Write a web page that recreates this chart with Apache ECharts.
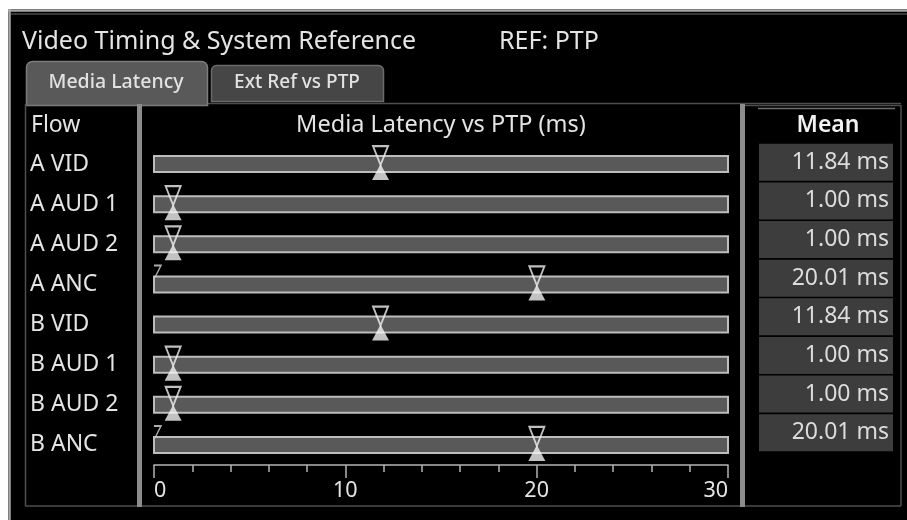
<!DOCTYPE html>
<html>
<head>
<meta charset="utf-8">
<script src="https://cdn.jsdelivr.net/npm/echarts@6/dist/echarts.min.js"></script>
<style>
html,body{margin:0;padding:0;background:#fff;}
#c{width:907px;height:520px;}
</style>
</head>
<body>
<div id="c"></div>
<script>
// ---- data ----
const flows = ['A VID', 'A AUD 1', 'A AUD 2', 'A ANC', 'B VID', 'B AUD 1', 'B AUD 2', 'B ANC'];
const latencyMs = [11.84, 1.00, 1.00, 20.01, 11.84, 1.00, 1.00, 20.01];
const meanMs = [11.84, 1.00, 1.00, 20.01, 11.84, 1.00, 1.00, 20.01];
const minMarkMs = [null, null, null, 0, null, null, null, 0];
const axisMin = 0, axisMax = 30, axisStep = 10;
const titleText = 'Video Timing & System Reference';
const refText = 'REF: PTP';
const tabLabels = ['Media Latency', 'Ext Ref vs PTP'];
const flowHeader = 'Flow';
const chartHeader = 'Media Latency vs PTP (ms)';
const meanHeader = 'Mean';

const FONT = '"Noto Sans", "Open Sans", sans-serif';
const TXT = '#e4e4e4';

const chart = echarts.init(document.getElementById('c'), null, {renderer: 'canvas'});

const graphics = [
  // outer white margin + frame lines
  {type: 'rect', shape: {x: 0, y: 0, width: 907, height: 9}, style: {fill: '#fff'}},
  {type: 'rect', shape: {x: 0, y: 0, width: 8, height: 520}, style: {fill: '#fff'}},
  {type: 'line', shape: {x1: 8, y1: 10.5, x2: 907, y2: 10.5}, style: {stroke: '#a8a8a8', lineWidth: 2.5}},
  {type: 'line', shape: {x1: 11, y1: 14, x2: 907, y2: 14}, style: {stroke: '#4a4a4a', lineWidth: 1.5}},
  {type: 'line', shape: {x1: 9.5, y1: 9, x2: 9.5, y2: 520}, style: {stroke: '#a8a8a8', lineWidth: 2.5}},
  // titles
  {type: 'text', style: {x: 22, y: 42, text: titleText, fill: TXT, font: '25px ' + FONT, textVerticalAlign: 'middle'}},
  {type: 'text', style: {x: 499, y: 42, text: refText, fill: TXT, font: '25px ' + FONT, textVerticalAlign: 'middle'}},
  // panel top line
  {type: 'line', shape: {x1: 208, y1: 103.5, x2: 901, y2: 103.5}, style: {stroke: '#4e4e4e', lineWidth: 1.5}},
  // tabs
  {type: 'rect', shape: {x: 26.5, y: 61.5, width: 181, height: 44, r: [6, 6, 0, 0]}, style: {fill: '#595959', stroke: '#7c7c7c', lineWidth: 1.5}},
  {type: 'rect', shape: {x: 211.5, y: 65.5, width: 172, height: 36, r: [5, 5, 0, 0]}, style: {fill: '#464646', stroke: '#6a6a6a', lineWidth: 1.5}},
  {type: 'text', style: {x: 116, y: 82, text: tabLabels[0], fill: '#e2e2e2', font: '500 19.5px ' + FONT, textAlign: 'center', textVerticalAlign: 'middle'}},
  {type: 'text', style: {x: 297, y: 83, text: tabLabels[1], fill: '#e2e2e2', font: '500 19px ' + FONT, textAlign: 'center', textVerticalAlign: 'middle'}},
  // left column box
  {type: 'line', shape: {x1: 25.5, y1: 104, x2: 25.5, y2: 506}, style: {stroke: '#4e4e4e', lineWidth: 1.5}},
  {type: 'line', shape: {x1: 25, y1: 506, x2: 901, y2: 506}, style: {stroke: '#4e4e4e', lineWidth: 1.5}},
  {type: 'rect', shape: {x: 137, y: 104, width: 5, height: 403}, style: {fill: '#8c8c8c'}},
  {type: 'rect', shape: {x: 740, y: 104, width: 5, height: 403}, style: {fill: '#8c8c8c'}},
  // right column box
  {type: 'line', shape: {x1: 745, y1: 105.5, x2: 901, y2: 105.5}, style: {stroke: '#4e4e4e', lineWidth: 1.5}},
  {type: 'line', shape: {x1: 901, y1: 105, x2: 901, y2: 506}, style: {stroke: '#4e4e4e', lineWidth: 1.5}},
  {type: 'line', shape: {x1: 758, y1: 108.5, x2: 895, y2: 108.5}, style: {stroke: '#6e6e6e', lineWidth: 1.5}},
  // headers
  {type: 'text', style: {x: 31, y: 125, text: flowHeader, fill: TXT, font: '23px ' + FONT, textVerticalAlign: 'middle'}},
  {type: 'text', style: {x: 441, y: 125, text: chartHeader, fill: TXT, font: '23.5px ' + FONT, textAlign: 'center', textVerticalAlign: 'middle'}},
  {type: 'text', style: {x: 828, y: 125, text: meanHeader, fill: '#f2f2f2', font: '600 23px ' + FONT, textAlign: 'center', textVerticalAlign: 'middle'}}
];

const option = {
  backgroundColor: '#000',
  animation: false,
  graphic: graphics,
  grid: [
    {left: 154, right: 179, top: 144, bottom: 55},
    {left: 893, right: 13, top: 143, height: 309}
  ],
  xAxis: [
    {
      type: 'value', gridIndex: 0, min: axisMin, max: axisMax, interval: axisStep,
      position: 'bottom',
      axisLine: {show: true, lineStyle: {color: '#b4b4b4', width: 1.5}},
      axisTick: {show: true, length: 13, lineStyle: {color: '#b4b4b4', width: 1.5}},
      minorTick: {show: true, splitNumber: 5, length: 7, lineStyle: {color: '#b4b4b4', width: 1.5}},
      splitLine: {show: false},
      minorSplitLine: {show: false},
      axisLabel: {color: TXT, fontSize: 21.5, fontFamily: FONT, margin: 15, alignMinLabel: 'left', alignMaxLabel: 'right'}
    },
    {type: 'value', gridIndex: 1, show: false, min: 0, max: 1}
  ],
  yAxis: [
    {
      type: 'category', gridIndex: 0, data: flows, inverse: true,
      axisLine: {show: false}, axisTick: {show: false}, splitLine: {show: false},
      axisLabel: {align: 'left', margin: 124, color: TXT, fontSize: 23, fontFamily: FONT}
    },
    {
      type: 'category', gridIndex: 1, data: flows, inverse: true,
      axisLine: {show: false}, axisTick: {show: false}, splitLine: {show: false},
      axisLabel: {
        align: 'right', margin: 0,
        formatter: function (v, i) { return '{b|' + meanMs[i].toFixed(2) + ' ms}'; },
        rich: {
          b: {backgroundColor: '#3d3d3d', width: 126, height: 37, lineHeight: 37, padding: [0, 4, 0, 4],
              align: 'right', fontSize: 23, fontFamily: FONT, color: '#dcdcdc'}
        }
      }
    }
  ],
  series: [
    {
      type: 'bar', xAxisIndex: 0, yAxisIndex: 0,
      data: latencyMs,
      barWidth: 16,
      itemStyle: {color: 'rgba(0,0,0,0)'},
      showBackground: true,
      backgroundStyle: {color: '#595959', borderColor: '#bdbdbd', borderWidth: 2},
      silent: true
    },
    {
      type: 'scatter', xAxisIndex: 0, yAxisIndex: 0,
      data: latencyMs.map(function (v, i) { return [v, flows[i]]; }),
      symbol: 'triangle', symbolRotate: 180, symbolSize: [15, 19], symbolOffset: [0, -8.5],
      itemStyle: {color: 'rgba(0,0,0,0)', borderColor: '#f0f0f0', borderWidth: 2},
      z: 5
    },
    {
      type: 'scatter', xAxisIndex: 0, yAxisIndex: 0,
      data: latencyMs.map(function (v, i) { return [v, flows[i]]; }),
      symbol: 'triangle', symbolSize: [17, 16], symbolOffset: [0, 8],
      itemStyle: {color: '#f2f2f2'},
      z: 6
    },
    {
      type: 'scatter', xAxisIndex: 0, yAxisIndex: 0,
      data: minMarkMs.map(function (v, i) { return v === null ? null : [v, flows[i]]; }).filter(function (d) { return d; }),
      symbol: 'path://M0,0 L7,0 L1,12', symbolSize: [7, 12], symbolOffset: [3.5, -13],
      itemStyle: {color: 'rgba(0,0,0,0)', borderColor: '#d8d8d8', borderWidth: 1.5},
      z: 5
    }
  ]
};
chart.setOption(option);
</script>
</body>
</html>
